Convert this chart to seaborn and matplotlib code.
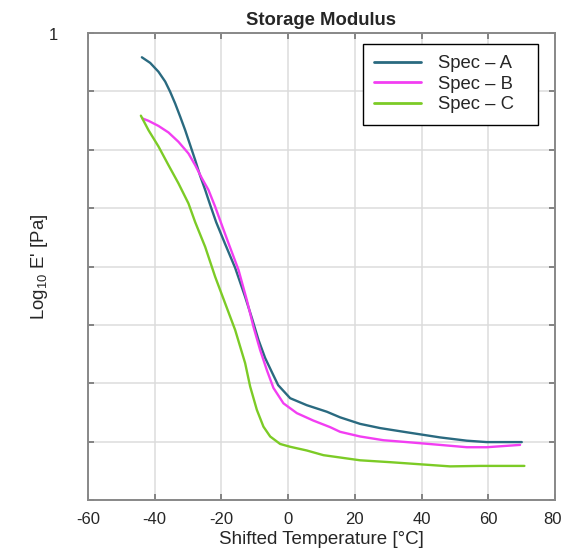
import matplotlib
matplotlib.use("Agg")
import matplotlib.pyplot as plt
import matplotlib.transforms as mtransforms
import seaborn as sns
import pandas as pd

# Data (y normalised: axis bottom = 0, top = 1)
temp_a = [-43.85, -41.36, -38.87, -36.86, -35.36, -33.87, -32.37, -30.87, -29.37, -27.87,
          -26.37, -24.87, -23.38, -21.58, -18.88, -15.88, -12.89, -10.88, -8.90, -6.89,
          -4.89, -3.00, 0.60, 5.60, 11.60, 15.58, 21.58, 27.57, 35.57, 45.55,
          53.56, 59.55, 70.04]
mod_a = [0.948, 0.936, 0.917, 0.896, 0.874, 0.849, 0.821, 0.792, 0.760, 0.728,
         0.694, 0.664, 0.632, 0.595, 0.548, 0.497, 0.435, 0.390, 0.343, 0.304,
         0.274, 0.246, 0.218, 0.203, 0.189, 0.177, 0.163, 0.154, 0.145, 0.134,
         0.127, 0.124, 0.124]

temp_b = [-43.67, -41.87, -38.87, -35.87, -32.88, -29.88, -27.87, -25.86, -23.89, -21.88,
          -19.69, -17.89, -14.89, -12.38, -10.40, -8.39, -6.38, -4.41, -1.41, 2.61,
          7.58, 12.59, 15.58, 21.58, 28.56, 35.57, 45.55, 53.56, 59.55, 69.53]
mod_b = [0.817, 0.812, 0.801, 0.787, 0.767, 0.742, 0.717, 0.689, 0.664, 0.628,
         0.585, 0.550, 0.493, 0.428, 0.371, 0.321, 0.278, 0.240, 0.207, 0.186,
         0.170, 0.156, 0.146, 0.136, 0.128, 0.124, 0.118, 0.113, 0.113, 0.118]

temp_c = [-44.15, -41.87, -38.87, -35.87, -32.88, -29.88, -27.87, -24.87, -21.88, -18.88,
          -15.88, -12.89, -11.39, -9.38, -7.40, -5.39, -2.40, 0.60, 5.60, 10.58,
          15.58, 21.58, 30.57, 40.55, 48.55, 57.54, 70.82]
mod_c = [0.823, 0.792, 0.757, 0.717, 0.678, 0.635, 0.595, 0.542, 0.478, 0.421,
         0.364, 0.293, 0.243, 0.193, 0.157, 0.136, 0.120, 0.114, 0.106, 0.096,
         0.091, 0.085, 0.081, 0.076, 0.072, 0.073, 0.073]

series = ["Spec \u2013 A", "Spec \u2013 B", "Spec \u2013 C"]
x_ticks = [-60, -40, -20, 0, 20, 40, 60, 80]

df = pd.concat([
    pd.DataFrame({"T": temp_a, "E": mod_a, "Spec": series[0]}),
    pd.DataFrame({"T": temp_b, "E": mod_b, "Spec": series[1]}),
    pd.DataFrame({"T": temp_c, "E": mod_c, "Spec": series[2]}),
], ignore_index=True)

sns.set_theme(style="white")
plt.rcParams["font.family"] = ["Liberation Sans", "DejaVu Sans"]
plt.rcParams["mathtext.fontset"] = "custom"
plt.rcParams["mathtext.rm"] = "Liberation Sans"
plt.rcParams["mathtext.it"] = "Liberation Sans:italic"
plt.rcParams["mathtext.bf"] = "Liberation Sans:bold"
plt.rcParams["mathtext.default"] = "regular"

fig = plt.figure(figsize=(5.62, 5.51), dpi=100)
ax = fig.add_axes([88 / 562, 51 / 551, 467 / 562, 467 / 551])

palette = {series[0]: "#2a6a80", series[1]: "#f23ef2", series[2]: "#7ccb26"}
sns.lineplot(data=df, x="T", y="E", hue="Spec", hue_order=series, palette=palette,
             sort=False, estimator=None, ax=ax, linewidth=1.7)

ax.set_xlim(-60, 80)
ax.set_ylim(0, 1)
ax.set_xticks(x_ticks)
ax.set_xticklabels([str(t) for t in x_ticks], fontsize=12)
ax.set_yticks([i / 8 for i in range(9)])
ax.set_yticklabels([])
ax.grid(True, color="#dcdcdc", linewidth=1.1)
ax.tick_params(axis="both", direction="in", length=4, color="#777777",
               top=True, right=True, bottom=True, left=True)
ax.tick_params(axis="x", pad=9)
for sp in ax.spines.values():
    sp.set_color("#888888")
    sp.set_linewidth(1.4)

# keep the last (edge) tick label inside the canvas
last = ax.get_xticklabels()[-1]
last.set_transform(last.get_transform() + mtransforms.ScaledTranslation(-3 / 100, 0, fig.dpi_scale_trans))

ax.text(-0.075, 0.995, "1", transform=ax.transAxes, ha="center", va="center", fontsize=12)

ax.set_title("Storage Modulus", fontsize=13.3, fontweight="bold", pad=6)
ax.set_xlabel("Shifted Temperature [\u00b0C]", fontsize=13.5, labelpad=2.5)
ax.set_ylabel("Log$_{10}$ E' [Pa]", fontsize=13.4)
ax.yaxis.set_label_coords(-0.081, 0.5)

leg = ax.legend(loc="upper left", bbox_to_anchor=(0.5889, 0.5, 0.3747, 0.4764),
                mode="expand", fontsize=13.3,
                frameon=True, fancybox=False, edgecolor="black", framealpha=1,
                handlelength=2.55, handletextpad=0.9, borderpad=0.6,
                labelspacing=0.2, borderaxespad=0)
leg.set_title(None)
leg.get_frame().set_linewidth(1.0)
for line in leg.get_lines():
    line.set_linewidth(2.0)

fig.savefig("out.png", dpi=100)
